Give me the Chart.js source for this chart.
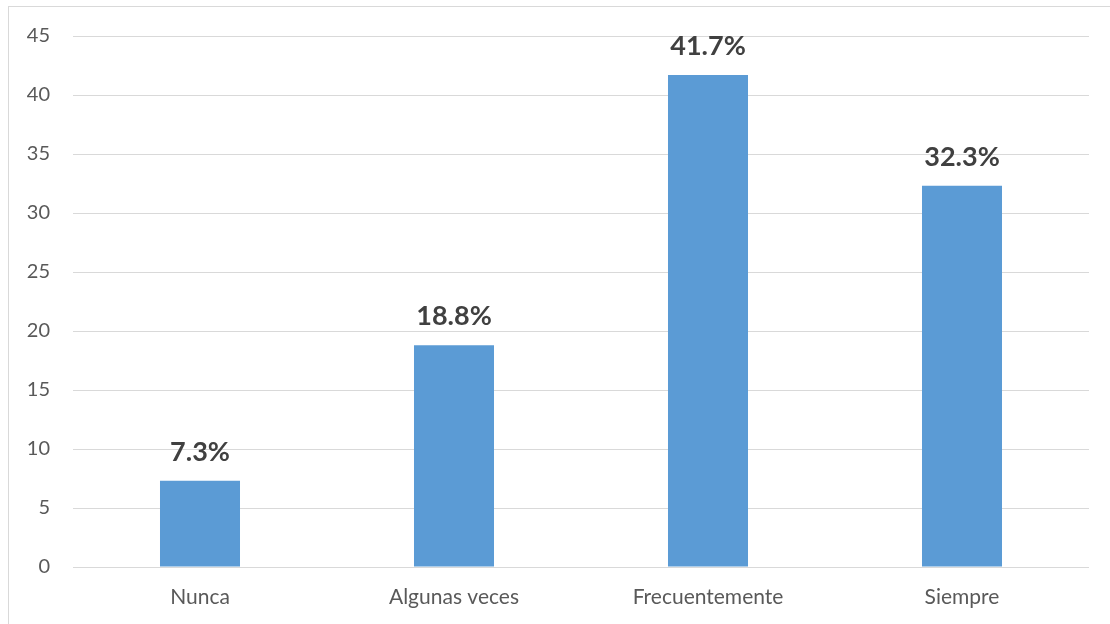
<!DOCTYPE html>
<html lang="es">
<head>
<meta charset="UTF-8">
<title>Frecuencia</title>
<script src="https://cdn.jsdelivr.net/npm/chart.js"></script>
<style>
  * { margin: 0; padding: 0; box-sizing: border-box; }
  body { background: #fff; width: 1110px; height: 624px; overflow: hidden; }
  .wrap { position: relative; width: 1110px; height: 624px; }
</style>
</head>
<body>
<div class="wrap"><canvas id="chart"></canvas></div>
<script>
const categories = ['Nunca', 'Algunas veces', 'Frecuentemente', 'Siempre'];
const values = [7.3, 18.8, 41.7, 32.3];
const yMax = 45;
const yStep = 5;

const FONT = 'Lato, "Open Sans", sans-serif';

// marco gris claro alrededor del grafico
const frame = {
  id: 'frame',
  beforeDraw(chart) {
    const c = chart.ctx;
    c.save();
    c.strokeStyle = '#d9d9d9';
    c.lineWidth = 1;
    c.strokeRect(8.5, 6.5, 1300, 1300);
    c.restore();
  }
};

// etiquetas de valor encima de cada barra
const valueLabels = {
  id: 'valueLabels',
  afterDatasetsDraw(chart) {
    const c = chart.ctx;
    const meta = chart.getDatasetMeta(0);
    c.save();
    c.font = 'bold 27px ' + FONT;
    c.fillStyle = '#404040';
    c.textAlign = 'center';
    c.textBaseline = 'middle';
    meta.data.forEach((bar, i) => {
      c.fillText(values[i].toFixed(1) + '%', bar.x, bar.y - 29);
    });
    c.restore();
  }
};

new Chart(document.getElementById('chart'), {
  type: 'bar',
  data: {
    labels: categories,
    datasets: [{
      data: values,
      backgroundColor: '#5b9bd5',
      borderWidth: 0,
      categoryPercentage: 1,
      barPercentage: 0.315
    }]
  },
  options: {
    responsive: true,
    maintainAspectRatio: false,
    animation: false,
    layout: { padding: { top: 36, right: 21, bottom: 0, left: 0 } },
    plugins: { legend: { display: false }, tooltip: { enabled: false } },
    scales: {
      x: {
        grid: { display: false },
        border: { display: false },
        ticks: { color: '#595959', font: { family: FONT, size: 21 }, padding: 10 },
        afterFit(s) { s.height = 57; }
      },
      y: {
        min: 0,
        max: yMax,
        ticks: { stepSize: yStep, color: '#595959', font: { family: FONT, size: 20 }, padding: 23 },
        grid: { color: '#d9d9d9', lineWidth: 1, drawTicks: false },
        border: { display: false },
        afterFit(s) { s.width = 73; }
      }
    }
  },
  plugins: [frame, valueLabels]
});
</script>
</body>
</html>
